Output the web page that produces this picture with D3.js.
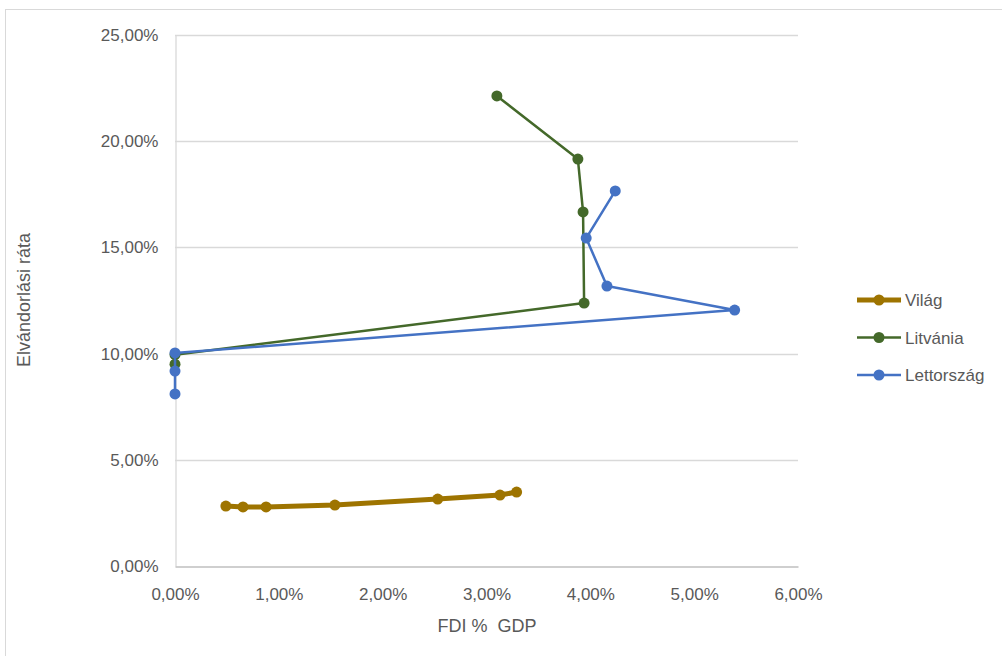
<!DOCTYPE html>
<html><head><meta charset="utf-8">
<script src="https://cdn.jsdelivr.net/npm/d3@7"></script>
<style>body{margin:0;background:#fff;font-family:"Liberation Sans","Open Sans",sans-serif;}</style>
</head><body><svg id="c" width="1002" height="656"></svg>
<script>
const seriesNames = ["Világ", "Litvánia", "Lettország"];
const seriesColors = ["#9e7400", "#44692a", "#4472c4"];
const vilagX = [0.49, 0.655, 0.877, 1.54, 2.53, 3.13, 3.29];
const vilagY = [2.82, 2.78, 2.78, 2.87, 3.15, 3.34, 3.48];
const litvaniaX = [3.10, 3.88, 3.93, 3.94, 0.0, 0.0];
const litvaniaY = [22.13, 19.16, 16.67, 12.38, 9.95, 9.5];
const lettorszagX = [4.24, 3.96, 4.16, 5.39, 0.0, 0.0, 0.0];
const lettorszagY = [17.66, 15.44, 13.18, 12.05, 10.03, 9.18, 8.10];
const xTicks = [0, 1, 2, 3, 4, 5, 6];
const yTicks = [0, 5, 10, 15, 20, 25];
const xTitle = "FDI %  GDP";
const yTitle = "Elvándorlási ráta";

const svg = d3.select("#c");
// chart frame
svg.append("rect").attr("x",5.5).attr("y",9.5).attr("width",1010).attr("height",660)
  .attr("fill","none").attr("stroke","#d9d9d9");

const x = d3.scaleLinear().domain([0,6]).range([175,798]);
const y = d3.scaleLinear().domain([0,25]).range([566,35]);
const fmt = v => v.toFixed(2).replace(".", ",") + "%";

// gridlines
svg.append("g").selectAll("line").data(yTicks.filter(d=>d>0)).join("line")
  .attr("x1",x(0)).attr("x2",x(6)).attr("y1",d=>Math.round(y(d))+0.5).attr("y2",d=>Math.round(y(d))+0.5)
  .attr("stroke","#d9d9d9").attr("stroke-width",1.3);

// y axis
const ya = svg.append("g").attr("transform",`translate(${x(0)+0.5},0)`)
  .call(d3.axisLeft(y).tickValues(yTicks).tickFormat(fmt).tickSize(0).tickPadding(17));
ya.select(".domain").attr("stroke","#d9d9d9").attr("stroke-width",1.3);
ya.selectAll("text").attr("fill","#595959").style("font-size","17px").style("font-family","Liberation Sans, sans-serif");

// x axis
const xa = svg.append("g").attr("transform",`translate(0,${y(0)+0.5})`)
  .call(d3.axisBottom(x).tickValues(xTicks).tickFormat(fmt).tickSize(0).tickPadding(21));
xa.select(".domain").attr("stroke","#bfbfbf").attr("stroke-width",1.3);
xa.selectAll("text").attr("fill","#595959").style("font-size","17px").style("font-family","Liberation Sans, sans-serif");

// titles
svg.append("text").attr("x",487).attr("y",632).attr("text-anchor","middle")
  .attr("xml:space","preserve").style("white-space","pre")
  .attr("fill","#595959").style("font-size","18px").text(xTitle);
svg.append("text").attr("transform","translate(30,300) rotate(-90)").attr("text-anchor","middle")
  .attr("fill","#595959").style("font-size","18px").text(yTitle);

const series = [
  {name: seriesNames[0], color: seriesColors[0], xs: vilagX, ys: vilagY, w: 5, r: 5.5},
  {name: seriesNames[1], color: seriesColors[1], xs: litvaniaX, ys: litvaniaY, w: 2.5, r: 5.5},
  {name: seriesNames[2], color: seriesColors[2], xs: lettorszagX, ys: lettorszagY, w: 2.5, r: 5.5}
];
const line = d3.line().x(d=>x(d[0])).y(d=>y(d[1]));
series.forEach(s => {
  const pts = s.xs.map((v,i)=>[v, s.ys[i]]);
  const g = svg.append("g");
  g.append("path").attr("d", line(pts)).attr("fill","none").attr("stroke",s.color)
    .attr("stroke-width",s.w).attr("stroke-linejoin","round");
  g.selectAll("circle").data(pts).join("circle").attr("cx",d=>x(d[0])).attr("cy",d=>y(d[1]))
    .attr("r",s.r).attr("fill",s.color);
});

// legend
const lg = svg.append("g");
series.forEach((s,i) => {
  const yy = 300 + i*37.5;
  lg.append("line").attr("x1",857).attr("x2",901).attr("y1",yy).attr("y2",yy)
    .attr("stroke",s.color).attr("stroke-width",s.w);
  lg.append("circle").attr("cx",879).attr("cy",yy).attr("r",5.5).attr("fill",s.color);
  lg.append("text").attr("x",905).attr("y",yy+6).attr("fill","#595959")
    .style("font-size","17px").text(s.name);
});
</script></body></html>
